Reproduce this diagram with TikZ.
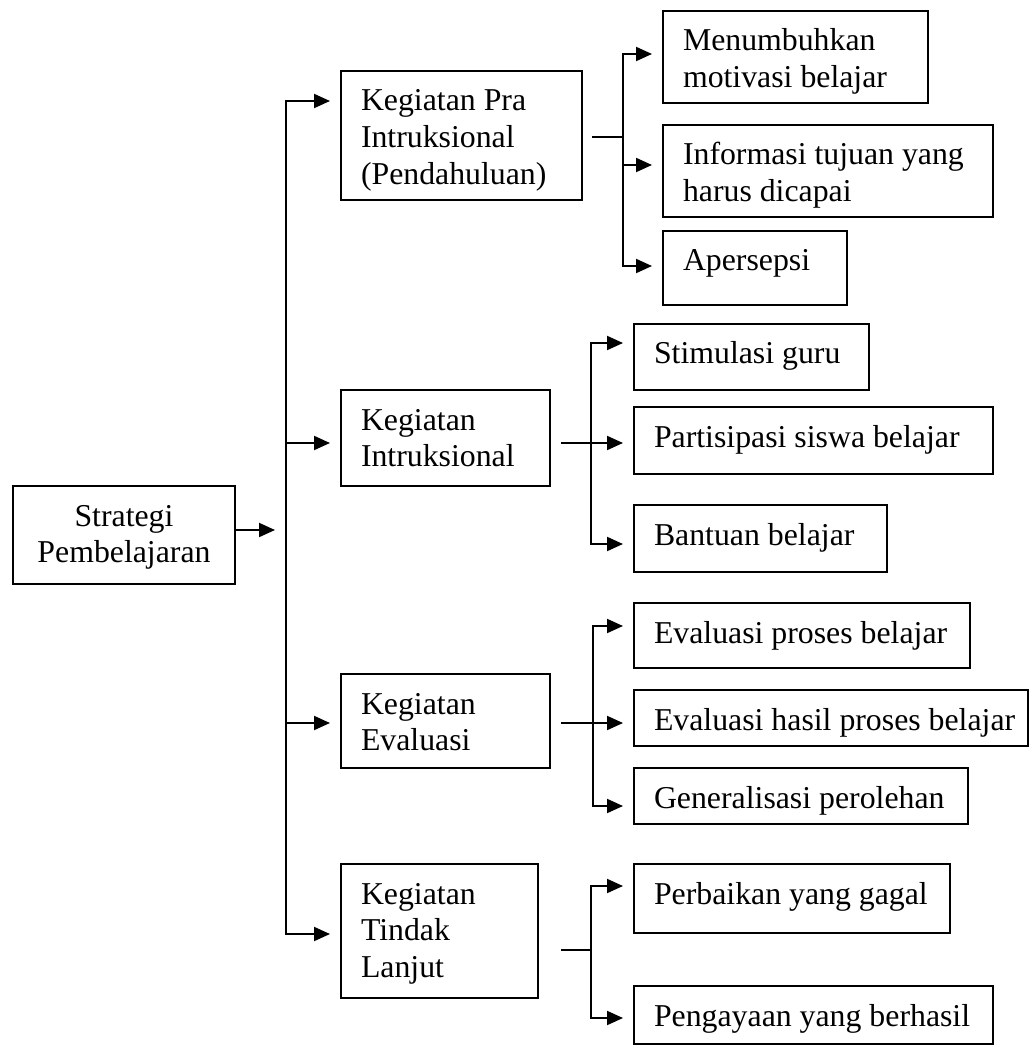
\documentclass[tikz,border=0pt]{standalone}
\usepackage{fontspec}
\setmainfont{Liberation Serif}
\usetikzlibrary{arrows.meta}

% box text: width, height, lines (top aligned like a text box)
\newcommand{\boxtxt}[3]{\parbox[t][#2][t]{#1}{\raggedright\rule{0pt}{20pt}#3}}

\begin{document}
\begin{tikzpicture}[x=0.5pt, y=-0.5pt, line width=1pt,
  >={Triangle[length=8pt, width=7pt]},
  font=\fontsize{15.9}{18.3}\selectfont,
  b/.style={draw, anchor=north west, inner xsep=10pt, inner ysep=0pt},
  arr/.style={->, shorten >=5pt}]
\useasboundingbox (0,0) rectangle (1030,1047);
\node[b] (strat) at (12,485) {\boxtxt{91pt}{49pt}{\centering Strategi\\Pembelajaran}};
\node[b] (pra) at (340,70) {\boxtxt{100.5pt}{64.5pt}{Kegiatan Pra\\Intruksional\\(Pendahuluan)}};
\node[b] (intr) at (340,389) {\boxtxt{84.5pt}{48pt}{Kegiatan\\Intruksional}};
\node[b] (eval) at (340,673) {\boxtxt{84.5pt}{47pt}{Kegiatan\\Evaluasi}};
\node[b] (tl) at (340,863) {\boxtxt{78.5pt}{67pt}{Kegiatan\\Tindak\\Lanjut}};
\node[b] (m1) at (662,10) {\boxtxt{112.5pt}{46pt}{Menumbuhkan\\motivasi belajar}};
\node[b] (m2) at (662,124) {\boxtxt{145pt}{46pt}{Informasi tujuan yang\\harus dicapai}};
\node[b] (m3) at (662,230) {\boxtxt{72pt}{37pt}{Apersepsi}};
\node[b] (s1) at (633,323) {\boxtxt{97.5pt}{33pt}{Stimulasi guru}};
\node[b] (s2) at (633,406) {\boxtxt{159.5pt}{33.5pt}{Partisipasi siswa belajar}};
\node[b] (s3) at (633,504) {\boxtxt{106.5pt}{33.5pt}{Bantuan belajar}};
\node[b] (e1) at (633,602) {\boxtxt{148pt}{32.5pt}{Evaluasi proses belajar}};
\node[b] (e2) at (633,689) {\boxtxt{177pt}{28pt}{\mbox{Evaluasi hasil proses belajar}}};
\node[b] (e3) at (633,767) {\boxtxt{147pt}{28pt}{Generalisasi perolehan}};
\node[b] (t1) at (633,863) {\boxtxt{138pt}{34.5pt}{Perbaikan yang gagal}};
\node[b] (t2) at (633,985) {\boxtxt{159.5pt}{29pt}{Pengayaan yang berhasil}};
% trunk x positions
\coordinate (jt) at (286,0);
\coordinate (jp) at (623,0);
\coordinate (ji) at (591,0);
\coordinate (je) at (593,0);
\coordinate (jl) at (591,0);
% main trunk
\coordinate (sout) at ([yshift=2.5pt]strat.east);
\coordinate (pin) at ([yshift=17.25pt]pra.west);
\coordinate (iin) at ([yshift=-2.5pt]intr.west);
\coordinate (ein) at ([yshift=-1pt]eval.west);
\coordinate (tin) at ([yshift=-1.5pt]tl.west);
\draw[arr, shorten >=5.5pt] (sout) -- (sout -| jt);
\draw[arr] (jt |- iin) |- (pin);
\draw[arr] (jt |- iin) -- (iin);
\draw[arr] (jt |- iin) |- (ein);
\draw[arr] (jt |- iin) |- (tin);
% pra
\coordinate (pout) at ([xshift=4.5pt, yshift=-1pt]pra.east);
\coordinate (m1in) at ([yshift=1.5pt]m1.west);
\coordinate (m2in) at ([yshift=3pt]m2.west);
\coordinate (m3in) at ([yshift=1pt]m3.west);
\draw (pout) -- (pout -| jp);
\draw[arr] (jp |- m2in) |- (m1in);
\draw[arr] (jp |- m2in) -- (m2in);
\draw[arr] (jp |- m2in) |- (m3in);
% intruksional
\coordinate (iout) at ([xshift=5pt, yshift=-2.5pt]intr.east);
\coordinate (s1in) at ([yshift=7pt]s1.west);
\coordinate (s2in) at ([yshift=-1.25pt]s2.west);
\coordinate (s3in) at ([yshift=-2.75pt]s3.west);
\draw (iout) -- (iout -| ji);
\draw[arr] (ji |- s2in) |- (s1in);
\draw[arr] (ji |- s2in) -- (s2in);
\draw[arr] (ji |- s2in) |- (s3in);
% evaluasi
\coordinate (eout) at ([xshift=5pt, yshift=-1pt]eval.east);
\coordinate (e1in) at ([yshift=4.75pt]e1.west);
\coordinate (e2in) at ([yshift=-2.5pt]e2.west);
\coordinate (e3in) at ([yshift=-5pt]e3.west);
\draw (eout) -- (eout -| je);
\draw[arr] (je |- e2in) |- (e1in);
\draw[arr] (je |- e2in) -- (e2in);
\draw[arr] (je |- e2in) |- (e3in);
% tindak lanjut
\coordinate (lout) at ([xshift=11pt, yshift=-9.5pt]tl.east);
\coordinate (t1in) at ([yshift=6.25pt]t1.west);
\coordinate (t2in) at ([yshift=-1.5pt]t2.west);
\draw (lout) -- (lout -| jl);
\draw[arr] (jl |- lout) |- (t1in);
\draw[arr] (jl |- lout) |- (t2in);
\end{tikzpicture}
\end{document}
